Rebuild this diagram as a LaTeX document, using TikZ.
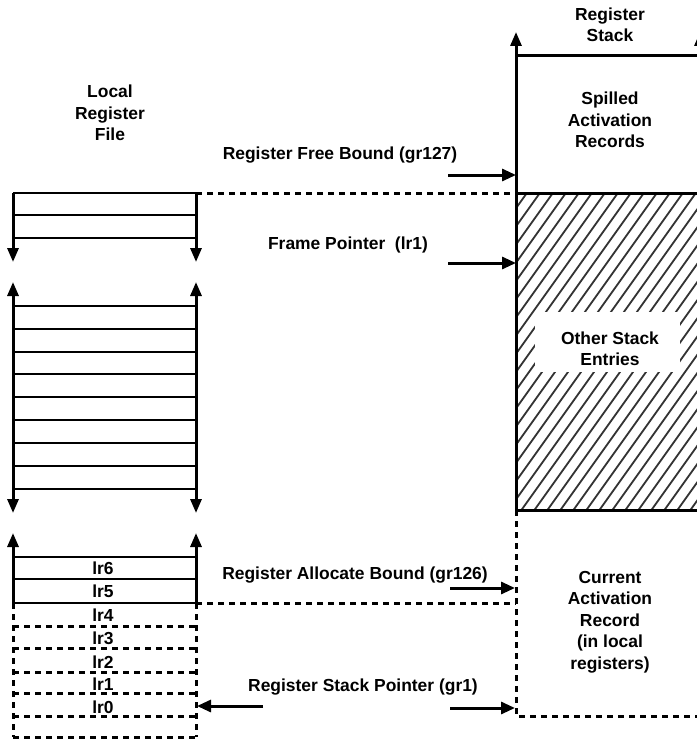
\documentclass[tikz,border=0pt]{standalone}
\usepackage{fontspec}
\setmainfont{Liberation Sans}
\usetikzlibrary{arrows.meta}
\begin{document}
\begin{tikzpicture}[x=1bp,y=-1bp,
  wall/.style={line width=3bp},
  cellline/.style={line width=2.7bp},
  dsh/.style={line width=3bp, dash pattern=on 6bp off 5bp},
  lab/.style={font=\bfseries\fontsize{17.5}{21.5}\selectfont, align=center, inner sep=0pt},
  tip/.style={-{Triangle[length=14bp,width=11bp]}},
  bitip/.style={{Triangle[length=14bp,width=11bp]}-{Triangle[length=14bp,width=11bp]}},
  uptip/.style={{Triangle[length=14bp,width=11bp]}-},
  ptr/.style={line width=3bp, -{Triangle[length=14bp,width=12bp]}},
  hatch/.style={line width=1.8bp, black!80}]
\useasboundingbox (0,0) rectangle (697,741);

% ---------- Local register file ----------
\node[lab] (lrftitle) at (110,113) {Local\\Register\\File};
% top section
\foreach \y in {193,215,238} \draw[cellline] (13,\y) -- (196,\y);
\coordinate (tl1) at (13,193); \coordinate (tl2) at (13,262);
\coordinate (tr1) at (196,193); \coordinate (tr2) at (196,262);
\draw[wall,tip] (tl1) -- (tl2);
\draw[wall,tip] (tr1) -- (tr2);
% middle section
\foreach \y in {306,329,352,374,397,420,443,466,489} \draw[cellline] (13,\y) -- (196,\y);
\coordinate (ml1) at (13,282); \coordinate (ml2) at (13,513);
\coordinate (mr1) at (196,282); \coordinate (mr2) at (196,513);
\draw[wall,bitip] (ml1) -- (ml2);
\draw[wall,bitip] (mr1) -- (mr2);
% bottom section
\foreach \y in {557,579,603} \draw[cellline] (13,\y) -- (196,\y);
\coordinate (bl1) at (13,533); \coordinate (bl2) at (13,603); \coordinate (bl3) at (13,737);
\coordinate (br1) at (196,533); \coordinate (br2) at (196,603); \coordinate (br3) at (196,737);
\draw[wall,uptip] (bl1) -- (bl2);
\draw[wall,uptip] (br1) -- (br2);
\draw[dsh] (bl2) -- (bl3);
\draw[dsh] (br2) -- (br3);
\foreach \y in {626,648,672,693,716,737} \draw[dsh] (13,\y) -- (196,\y);
\node[lab] (lr6) at (103,568) {lr6};
\node[lab] (lr5) at (103,591) {lr5};
\node[lab] (lr4) at (103,615) {lr4};
\node[lab] (lr3) at (103,638) {lr3};
\node[lab] (lr2) at (103,662) {lr2};
\node[lab] (lr1) at (103,684) {lr1};
\node[lab] (lr0) at (103,707) {lr0};

% ---------- Register stack ----------
\begin{scope}
  \clip (516,193) rectangle (700,510);
  \foreach \i in {0,...,40} {
    \draw[hatch] ({516-230+\i*13},512) -- ++(230,-322);
  }
  \fill[white] (535,312) rectangle (680,372);
\end{scope}
\coordinate (sl0) at (516,32); \coordinate (sl1) at (516,510); \coordinate (sl2) at (516,716);
\coordinate (sr0) at (700,32); \coordinate (sr1) at (700,510); \coordinate (sr2) at (700,716);
\draw[wall,tip] (sl1) -- (sl0);
\draw[wall,tip] (sr1) -- (sr0);
\draw[wall] (516,56) -- (700,56);
\draw[wall] (516,193) -- (700,193);
\draw[wall] (sl1) -- (sr1);
\draw[dsh] (sl1) -- (sl2) -- (sr2);

\node[lab] (stacktitle) at (610,25) {Register\\Stack};
\node[lab] (spilled) at (610,120) {Spilled\\Activation\\Records};
\node[lab] (other) at (610,349) {Other Stack\\Entries};
\node[lab] (current) at (610,622) {Current\\Activation\\Record\\(in local\\registers)};

% ---------- pointers ----------
\node[lab] (freebound) at (340,155) {Register Free Bound (gr127)};
\coordinate (fb1) at (448,175); \coordinate (fb2) at (516,175);
\draw[ptr] (fb1) -- (fb2);
\draw[dsh] (tr1) -- (516,193);

\node[lab] (framep) at (348,245) {Frame Pointer\ \ (lr1)};
\coordinate (fp1) at (448,263); \coordinate (fp2) at (516,263);
\draw[ptr] (fp1) -- (fp2);

\node[lab] (allocb) at (355,575) {Register Allocate Bound (gr126)};
\coordinate (ab1) at (450,588); \coordinate (ab2) at (515,588);
\draw[ptr] (ab1) -- (ab2);
\draw[dsh] (br2) -- (516,603);

\node[lab] (stackp) at (363,687) {Register Stack Pointer (gr1)};
\coordinate (sp1) at (450,708); \coordinate (sp2) at (515,708);
\draw[ptr] (sp1) -- (sp2);
\coordinate (sp3) at (263,706); \coordinate (sp4) at (197,706);
\draw[ptr] (sp3) -- (sp4);
\end{tikzpicture}
\end{document}
